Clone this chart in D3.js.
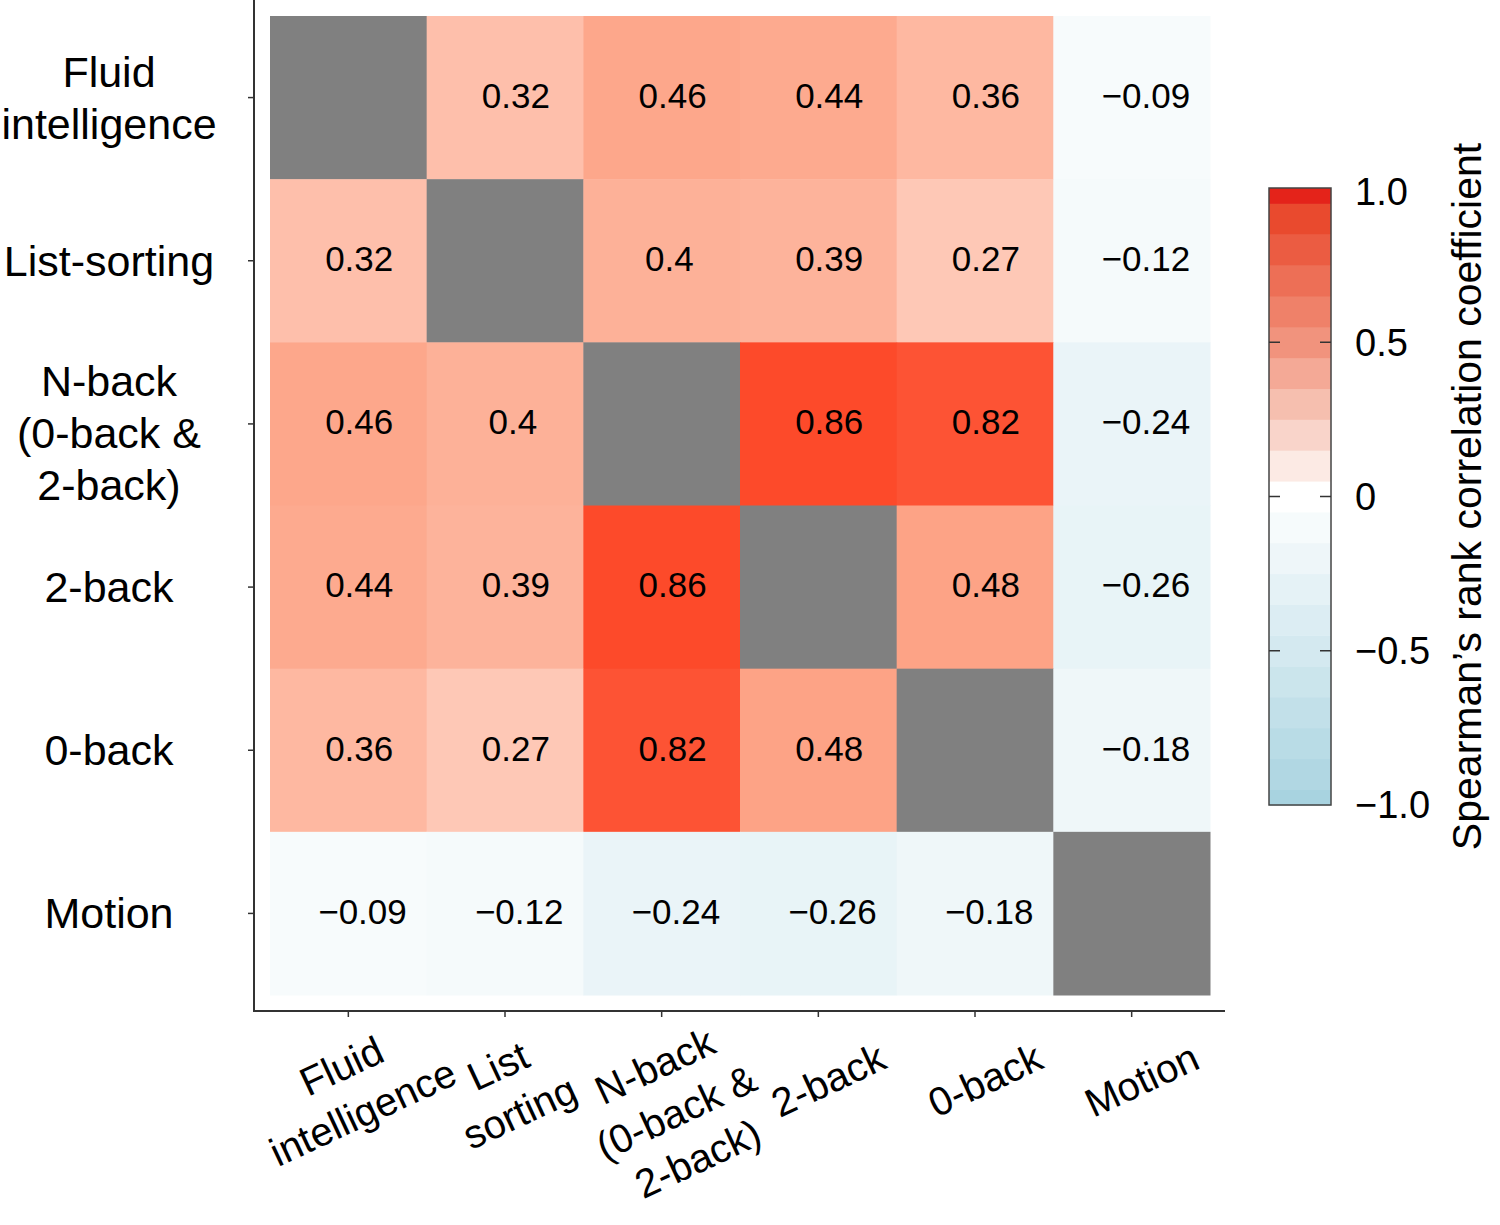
<!DOCTYPE html>
<html>
<head>
<meta charset="utf-8">
<script src="https://cdn.jsdelivr.net/npm/d3@7/dist/d3.min.js"></script>
<style>
  html, body { margin: 0; padding: 0; background: #fff; }
  svg { display: block; font-family: "Liberation Sans", Arial, Helvetica, sans-serif; }
</style>
</head>
<body>
<svg id="chart" width="1500" height="1225"></svg>
<script>
// ---------------- data ----------------
const categories = ["Fluid intelligence", "List-sorting", "N-back (0-back & 2-back)", "2-back", "0-back", "Motion"];
const yLabelLines = [["Fluid", "intelligence"], ["List-sorting"], ["N-back", "(0-back &", "2-back)"], ["2-back"], ["0-back"], ["Motion"]];
const xLabelLines = [["Fluid", "intelligence"], ["List", "sorting"], ["N-back", "(0-back &", "2-back)"], ["2-back"], ["0-back"], ["Motion"]];
// rows (top to bottom) x columns (left to right); null = diagonal
const rowFluid  = [null, 0.32, 0.46, 0.44, 0.36, -0.09];
const rowList   = [0.32, null, 0.40, 0.39, 0.27, -0.12];
const rowNback  = [0.46, 0.40, null, 0.86, 0.82, -0.24];
const row2back  = [0.44, 0.39, 0.86, null, 0.48, -0.26];
const row0back  = [0.36, 0.27, 0.82, 0.48, null, -0.18];
const rowMotion = [-0.09, -0.12, -0.24, -0.26, -0.18, null];
const matrix = [rowFluid, rowList, rowNback, row2back, row0back, rowMotion];
const cbTickValues = [1.0, 0.5, 0, -0.5, -1.0];
const cbTickLabels = ["1.0", "0.5", "0", "\u22120.5", "\u22121.0"];
const cbBandValues = d3.range(-10, 11).map(k => k / 10);
const cbTitle = "Spearman\u2019s rank correlation coefficient";

// ---------------- scales ----------------
const svg = d3.select("#chart");
const x = d3.scaleBand().domain(categories).range([270, 1210]).padding(0);
const y = d3.scaleBand().domain(categories).range([16, 995]).padding(0);
const color = d3.scaleLinear()
  .domain([-1, 0, 0.27, 0.48, 0.86, 1])
  .range(["#a8d3e0", "#ffffff", "#fec8b6", "#fda386", "#fd4a2a", "#e6231a"])
  .clamp(true);
// colorbar drawn in the slightly muted tone of the reference legend
const cbColor = d3.scaleLinear()
  .domain([-1, 0, 0.3, 0.5, 0.9, 1])
  .range(["#a8d3e0", "#ffffff", "#f6bfaf", "#f1937d", "#e94a2e", "#e4231a"])
  .clamp(true);
const diagColor = "#808080";
const fmt = v => String(v).replace("-", "\u2212");

// ---------------- cells ----------------
const cells = [];
matrix.forEach((row, i) => row.forEach((v, j) => cells.push({ r: categories[i], c: categories[j], v })));

svg.append("g").selectAll("rect").data(cells).join("rect")
  .attr("x", d => x(d.c)).attr("y", d => y(d.r))
  .attr("width", x.bandwidth() + 0.5).attr("height", y.bandwidth() + 0.5)
  .attr("fill", d => d.v === null ? diagColor : color(d.v));

const vt = svg.append("g").selectAll("text").data(cells.filter(d => d.v !== null)).join("text")
  .attr("text-anchor", "middle")
  .attr("font-size", 35)
  .attr("fill", "#000")
  .attr("y", d => y(d.r) + y.bandwidth() / 2 - 2)
  .attr("dy", "0.35em")
  .text(d => fmt(d.v));
vt.attr("x", function(d) { return x(d.c) + x.bandwidth() / 2 + 0.16 * this.getComputedTextLength(); });

// ---------------- axes ----------------
const axisColor = "#333";
svg.append("line").attr("x1", 254).attr("x2", 254).attr("y1", 0).attr("y2", 1012)
  .attr("stroke", axisColor).attr("stroke-width", 2);
svg.append("line").attr("x1", 253).attr("x2", 1225).attr("y1", 1011).attr("y2", 1011)
  .attr("stroke", axisColor).attr("stroke-width", 2);

const yAxis = svg.append("g").attr("transform", "translate(254,0)")
  .call(d3.axisLeft(y).tickSize(6).tickFormat(""));
yAxis.select(".domain").remove();
yAxis.selectAll("line").attr("stroke", axisColor).attr("stroke-width", 1.5);

const xAxis = svg.append("g").attr("transform", "translate(0,1011)")
  .call(d3.axisBottom(x).tickSize(6).tickFormat(""));
xAxis.select(".domain").remove();
xAxis.selectAll("line").attr("stroke", axisColor).attr("stroke-width", 1.5);

// y labels
const lh = 52;
categories.forEach((c, i) => {
  const lines = yLabelLines[i];
  const n = lines.length;
  const cy = y(c) + y.bandwidth() / 2 + (n === 3 ? 9 : 0);
  const g = svg.append("g");
  lines.forEach((t, k) => {
    g.append("text")
      .attr("x", 109)
      .attr("y", cy + (k - (n - 1) / 2) * lh)
      .attr("dy", "0.35em")
      .attr("text-anchor", "middle")
      .attr("font-size", 43)
      .attr("fill", "#000")
      .text(t);
  });
});

// x labels (rotated)
const ang = -25;
const xlh = 51;
categories.forEach((c, i) => {
  const lines = xLabelLines[i];
  const n = lines.length;
  const tx = x(c) + x.bandwidth() / 2;
  const fx = tx + (n === 1 ? 10 : -7);
  const fy = n === 1 ? 1080 : 1066;
  const g = svg.append("g").attr("transform", `translate(${fx},${fy}) rotate(${ang})`);
  lines.forEach((t, k) => {
    g.append("text")
      .attr("x", 0)
      .attr("y", k * xlh)
      .attr("dy", "0.35em")
      .attr("text-anchor", "middle")
      .attr("font-size", 40)
      .attr("fill", "#000")
      .text(t);
  });
});

// ---------------- colorbar ----------------
const cbX = 1269, cbW = 62;
const cbScale = d3.scaleLinear().domain([-1, 1]).range([805, 188]);
const cb = svg.append("g");
cb.selectAll("rect").data(cbBandValues).join("rect")
  .attr("x", cbX)
  .attr("y", d => cbScale(Math.min(1, d + 0.05)))
  .attr("width", cbW)
  .attr("height", d => cbScale(Math.max(-1, d - 0.05)) - cbScale(Math.min(1, d + 0.05)) + 0.5)
  .attr("fill", d => cbColor(d));
cb.append("rect").attr("x", cbX).attr("y", cbScale(1)).attr("width", cbW)
  .attr("height", cbScale(-1) - cbScale(1))
  .attr("fill", "none").attr("stroke", "#444").attr("stroke-width", 1.5);

const inner = cbTickValues.filter(v => Math.abs(v) < 1);
cb.selectAll("line.tl").data(inner).join("line").attr("class", "tl")
  .attr("x1", cbX).attr("x2", cbX + 11)
  .attr("y1", d => cbScale(d)).attr("y2", d => cbScale(d))
  .attr("stroke", "#333").attr("stroke-width", 1.5);
cb.selectAll("line.tr").data(inner).join("line").attr("class", "tr")
  .attr("x1", cbX + cbW - 11).attr("x2", cbX + cbW)
  .attr("y1", d => cbScale(d)).attr("y2", d => cbScale(d))
  .attr("stroke", "#333").attr("stroke-width", 1.5);

cb.selectAll("text.lab").data(cbTickValues).join("text").attr("class", "lab")
  .attr("x", 1355)
  .attr("y", d => cbScale(d) + (d === 1 ? 4 : 0))
  .attr("dy", "0.35em")
  .attr("font-size", 38)
  .attr("fill", "#000")
  .text((d, i) => cbTickLabels[i]);

svg.append("text")
  .attr("transform", `translate(1467,${(cbScale(1) + cbScale(-1)) / 2}) rotate(-90)`)
  .attr("text-anchor", "middle")
  .attr("dy", "0.35em")
  .attr("font-size", 41)
  .attr("fill", "#000")
  .text(cbTitle);
</script>
</body>
</html>
